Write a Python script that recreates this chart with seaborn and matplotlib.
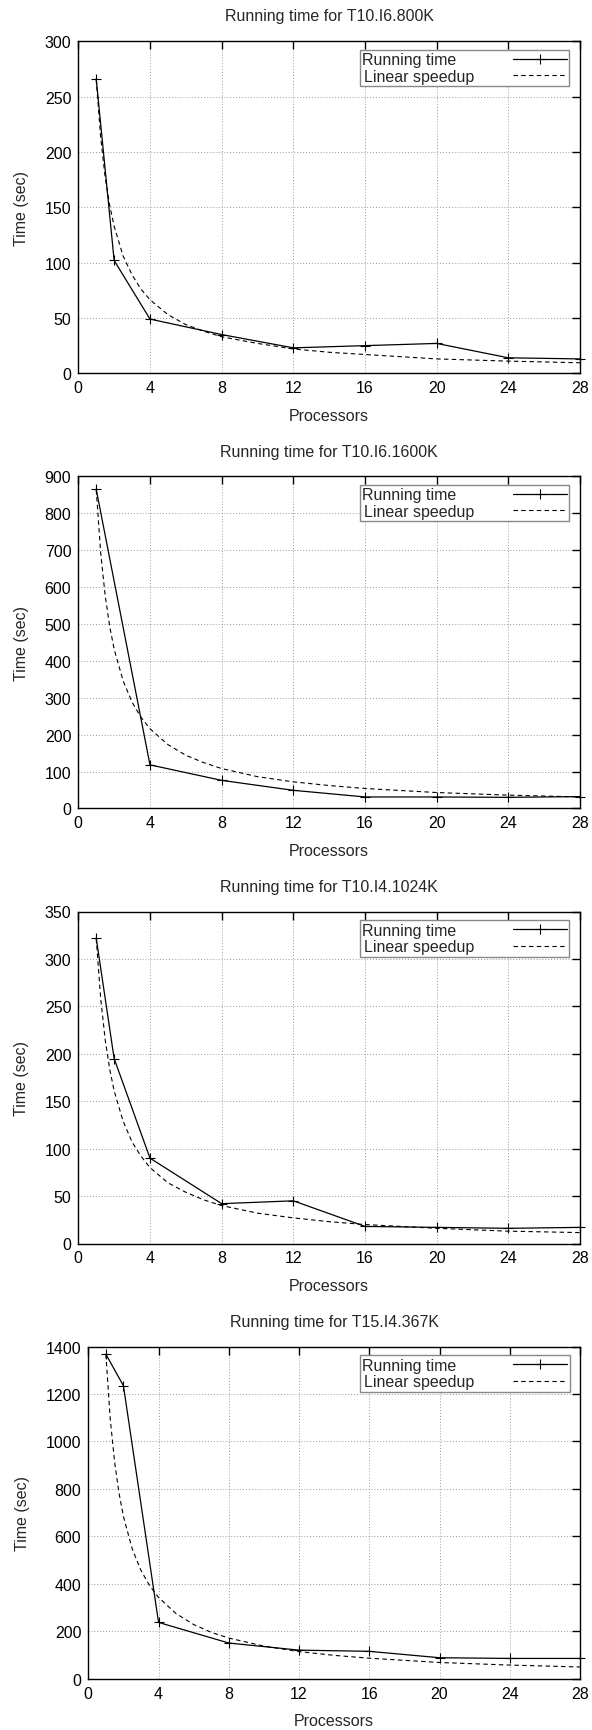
import numpy as np
import pandas as pd
import seaborn as sns
import matplotlib
matplotlib.use("Agg")
import matplotlib.pyplot as plt

sns.set_style("white")
plt.rcParams['font.family'] = ['Liberation Sans', 'DejaVu Sans']

titles = ["Running time for T10.I6.800K", "Running time for T10.I6.1600K",
          "Running time for T10.I4.1024K", "Running time for T15.I4.367K"]

# Running time measurements (processors, seconds)
procs_800k = [1, 2, 4, 8, 12, 16, 20, 24, 28]
time_800k = [266, 102, 49, 35, 23, 25, 27, 14, 13]

procs_1600k = [1, 4, 8, 12, 16, 20, 24, 28]
time_1600k = [865, 118, 76, 49, 31, 31, 30, 32]

procs_1024k = [1, 2, 4, 8, 12, 16, 20, 24, 28]
time_1024k = [322, 195, 90, 42, 45, 18, 17, 16, 17]

procs_367k = [1, 2, 4, 8, 12, 16, 20, 24, 28]
time_367k = [1368, 1235, 237, 150, 120, 115, 88, 85, 85]

# Linear speedup curves
speedup_x = [1, 1.25, 1.5, 1.75, 2, 2.5, 3, 3.5, 4, 5, 6, 7, 8, 10, 12, 14, 16, 20, 24, 28]
speedup_800k = [266, 213, 177, 152, 133, 106, 89, 76, 66.5, 53, 44, 38, 33, 27, 22, 19, 17, 13, 11, 9.5]
speedup_1600k = [865, 692, 577, 494, 432, 346, 288, 247, 216, 173, 144, 124, 108, 86, 72, 62, 54, 43, 36, 31]
speedup_1024k = [322, 258, 215, 184, 161, 129, 107, 92, 80, 64, 54, 46, 40, 32, 27, 23, 20, 16, 13, 11.5]
speedup_367k = [1368, 1094, 912, 782, 684, 547, 456, 391, 342, 274, 228, 195, 171, 137, 114, 98, 86, 68, 57, 49]

x_ticks = [0, 4, 8, 12, 16, 20, 24, 28]
y_ticks = [[0, 50, 100, 150, 200, 250, 300],
           [0, 100, 200, 300, 400, 500, 600, 700, 800, 900],
           [0, 50, 100, 150, 200, 250, 300, 350],
           [0, 200, 400, 600, 800, 1000, 1200, 1400]]

panels = [
    (procs_800k, time_800k, speedup_800k),
    (procs_1600k, time_1600k, speedup_1600k),
    (procs_1024k, time_1024k, speedup_1024k),
    (procs_367k, time_367k, speedup_367k),
]

W, H = 592, 1731
fig = plt.figure(figsize=(W / 100, H / 100), dpi=100)

fs = 11.5
right_px = 580.0
ax_h = 332.0
for i, (px, ty, sp) in enumerate(panels):
    left_px = 88.3 if i == 3 else 78.3
    top_px = 42.3 + i * 435.1
    ax = fig.add_axes([left_px / W, 1 - (top_px + ax_h) / H,
                       (right_px - left_px) / W, ax_h / H])
    df_run = pd.DataFrame({"Processors": px, "Time": ty})
    df_lin = pd.DataFrame({"Processors": speedup_x, "Time": sp})
    sns.lineplot(data=df_run, x="Processors", y="Time", ax=ax, color="black",
                 lw=0.9, marker="+", markersize=7, markeredgewidth=0.8,
                 markeredgecolor="black", label="Running time    ",
                 clip_on=False, zorder=4)
    sns.lineplot(data=df_lin, x="Processors", y="Time", ax=ax, color="black",
                 lw=0.8, linestyle=(0, (4, 3)), label="Linear speedup", zorder=3)
    ax.set_xlim(0, 28)
    ax.set_ylim(y_ticks[i][0], y_ticks[i][-1])
    ax.set_xticks(x_ticks)
    ax.set_yticks(y_ticks[i])
    ax.grid(True, color="#999999", lw=0.7, linestyle=(0, (1, 2)))
    ax.set_axisbelow(True)
    for s in ax.spines.values():
        s.set_visible(True)
        s.set_color("black")
        s.set_linewidth(1.0)
    ax.tick_params(direction="in", length=5.5, width=1.0, top=True, right=True,
                   labelsize=fs, pad=5, colors="black")
    ax.set_xlabel("Processors", fontsize=fs, labelpad=9)
    ax.set_ylabel("Time (sec)", fontsize=fs, labelpad=11)
    ax.set_title(titles[i], fontsize=fs, pad=15)
    leg = ax.legend(loc="upper right", bbox_to_anchor=(0.9787, 0.974),
                    borderaxespad=0, frameon=True, fancybox=False, shadow=False,
                    markerfirst=False, handlelength=3.4, handletextpad=2.4,
                    borderpad=0.15, labelspacing=0.1, fontsize=fs)
    leg.get_frame().set_edgecolor("#888888")
    leg.get_frame().set_linewidth(1.0)
    leg.get_frame().set_alpha(1)

fig.savefig("out.png", dpi=100)
